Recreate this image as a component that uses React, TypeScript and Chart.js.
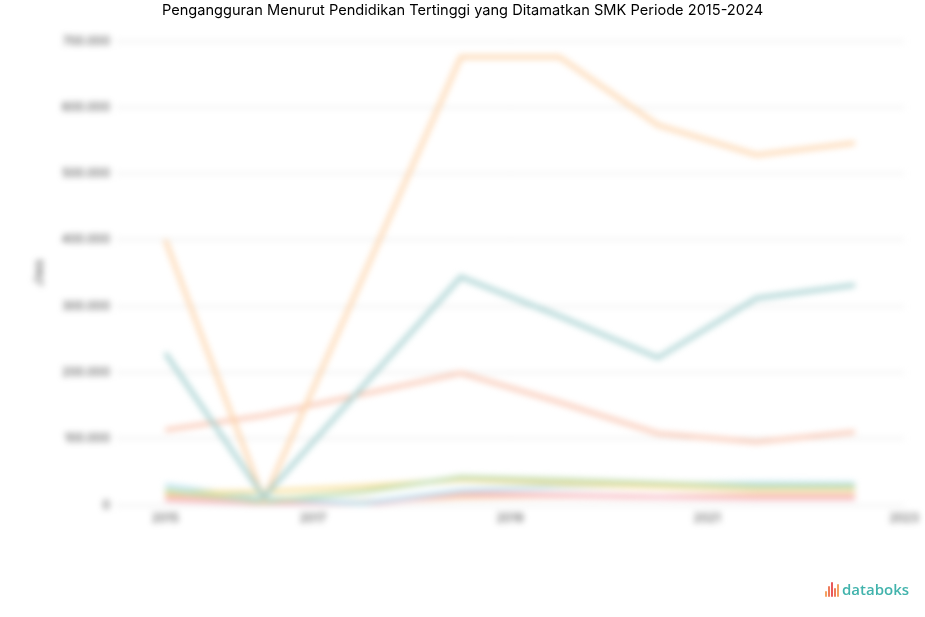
import React, { useEffect, useRef } from "react";
import { Chart, registerables } from "chart.js";

Chart.register(...registerables);

// Data positions (mid-year) on a year axis; 2017 missing for the large series
const periods = [2015.5, 2016.5, 2017.5, 2018.5, 2019.5, 2020.5, 2021.5, 2022.5];

const seriesTeal = [229000, 12000, null, 344000, 285000, 222000, 312000, 332000];
const seriesOrange = [400000, 8000, null, 676000, 676000, 573000, 528000, 546000];
const seriesSalmon = [113000, 135000, null, 199000, 155000, 108000, 95000, 110000];
const seriesYellow = [18000, 20000, 28000, 38000, 32000, 28000, 24000, 24000];
const seriesGreen = [22000, 5000, 20000, 42000, 38000, 33000, 28000, 28000];
const seriesLightBlue = [30000, 10000, 3000, 22000, 28000, 30000, 33000, 32000];
const seriesPink = [8000, 3000, 0, 18000, 15000, 12000, 10000, 10000];
const seriesOrangeSmall = [14000, 2000, 5000, 12000, 14000, 12000, 15000, 15000];

const xTickValues = [2015.5, 2017, 2019, 2021, 2023];
const xTickLabels = ["2015", "2017", "2019", "2021", "2023"];

const yMax = 700000;
const yStep = 100000;

const TITLE =
  "Pengangguran Menurut Pendidikan Tertinggi yang Ditamatkan SMK Periode 2015-2024";

function fmt(v: number): string {
  return String(Math.round(v)).replace(/\B(?=(\d{3})+(?!\d))/g, ".");
}

function toPoints(values: (number | null)[]) {
  return periods.map((x, i) => ({ x, y: values[i] }));
}

export default function App() {
  const canvasRef = useRef<HTMLCanvasElement | null>(null);

  useEffect(() => {
    const canvas = canvasRef.current;
    if (!canvas) return;
    const mk = (values: (number | null)[], color: string, width = 4) => ({
      data: toPoints(values),
      borderColor: color,
      backgroundColor: color,
      borderWidth: width,
      pointRadius: 0,
      pointHoverRadius: 0,
      tension: 0,
      spanGaps: true,
      fill: false,
    });
    const chart = new Chart(canvas, {
      type: "line",
      data: {
        datasets: [
          mk(seriesTeal, "#a3cfcf"),
          mk(seriesOrange, "#fdd4ab"),
          mk(seriesSalmon, "#f9c6b2"),
          mk(seriesGreen, "#bddcae"),
          mk(seriesYellow, "#f9e09a"),
          mk(seriesLightBlue, "#bce3f1"),
          mk(seriesPink, "#f7bac5"),
          mk(seriesOrangeSmall, "#f7c7a2"),
        ] as any,
      },
      options: {
        responsive: false,
        animation: false,
        layout: { padding: { left: 28, right: 19, top: 41, bottom: 92 } },
        plugins: {
          legend: { display: false },
          title: { display: false },
          tooltip: { enabled: false },
        },
        scales: {
          x: {
            type: "linear",
            min: 2015,
            max: 2023,
            grid: { display: false, drawTicks: false },
            border: { display: false },
            afterBuildTicks: (scale: any) => {
              scale.ticks = xTickValues.map((v) => ({ value: v }));
            },
            afterFit: (scale: any) => {
              scale.height = 20;
            },
            ticks: {
              autoSkip: false,
              maxRotation: 0,
              padding: 6,
              color: "#444",
              font: { family: "Inter", size: 12 },
              callback: (_v: any, i: number) => xTickLabels[i],
            },
          },
          y: {
            min: 0,
            max: yMax,
            grid: { color: "#dcdcdc", drawTicks: false, lineWidth: 1 },
            border: { display: false },
            afterFit: (scale: any) => {
              scale.width = 88;
            },
            title: {
              display: true,
              text: "Jiwa",
              color: "#444",
              font: { family: "Inter", size: 12 },
              padding: 4,
            },
            ticks: {
              stepSize: yStep,
              padding: 6,
              color: "#444",
              font: { family: "Inter", size: 12 },
              callback: (v: any) => fmt(Number(v)),
            },
          },
        },
      },
    });
    return () => chart.destroy();
  }, []);

  const bars = [
    { h: 6, c: "#f4a261" },
    { h: 11, c: "#ef7b5a" },
    { h: 15, c: "#e9585a" },
    { h: 9, c: "#ef7b5a" },
    { h: 13, c: "#f4a261" },
  ];

  return (
    <div
      style={{
        position: "fixed",
        left: 0,
        top: 0,
        width: 925,
        height: 617,
        background: "#fff",
        overflow: "hidden",
      }}
    >
      <canvas
        ref={canvasRef}
        width={925}
        height={617}
        style={{ position: "absolute", left: 0, top: 0, width: 925, height: 617, filter: "blur(3px)" }}
      />
      <div
        style={{
          position: "absolute",
          left: 0,
          top: 0,
          width: 925,
          textAlign: "center",
          fontFamily: "Inter, 'Noto Sans', sans-serif",
          fontSize: 14.6,
          lineHeight: "20px",
          color: "#000",
        }}
      >
        {TITLE}
      </div>
      <div
        style={{
          position: "absolute",
          left: 825,
          top: 579,
          height: 20,
          display: "flex",
          alignItems: "center",
        }}
      >
        <div style={{ display: "flex", alignItems: "flex-end", height: 15, marginRight: 2 }}>
          {bars.map((b, i) => (
            <div
              key={i}
              style={{ width: 2, height: b.h, background: b.c, marginRight: 1, borderRadius: 1 }}
            />
          ))}
        </div>
        <span
          style={{
            fontFamily: "'Open Sans', 'Noto Sans', sans-serif",
            fontSize: 15,
            fontWeight: 600,
            color: "#41b3ac",
            letterSpacing: 0,
          }}
        >
          databoks
        </span>
      </div>
    </div>
  );
}
